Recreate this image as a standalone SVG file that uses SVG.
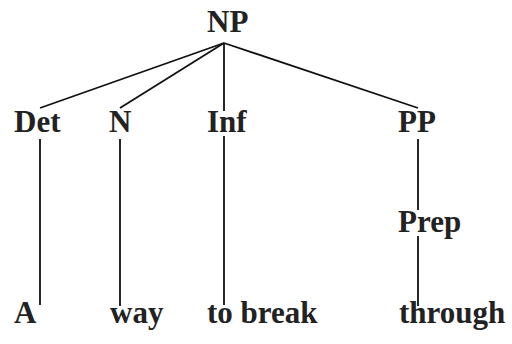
<svg xmlns="http://www.w3.org/2000/svg" width="512" height="344" viewBox="0 0 512 344">
<style>
text{font-family:"Liberation Serif","Times New Roman",serif;font-weight:bold;font-size:31px;fill:#222}
.e{stroke:#111;stroke-width:1.8;fill:none}
</style>
<rect width="512" height="344" fill="#fff"/>
<g id="edges">
<line class="e" x1="224" y1="43" x2="40" y2="108"/>
<line class="e" x1="224" y1="43" x2="120" y2="108"/>
<line class="e" x1="224" y1="43" x2="224" y2="305"/>
<line class="e" x1="224" y1="43" x2="418" y2="108"/>
<line class="e" x1="40" y1="139" x2="40" y2="305"/>
<line class="e" x1="120" y1="139" x2="120" y2="306"/>
<line class="e" x1="418" y1="139" x2="418" y2="210"/>
<line class="e" x1="418" y1="236" x2="418" y2="306"/>
</g>
<g id="np"><text x="207" y="32">NP</text></g>
<g id="det"><text x="14" y="132">Det</text></g>
<g id="n"><text x="109" y="132">N</text></g>
<g id="inf"><rect x="206" y="111" width="46" height="25" fill="#fff"/><text x="207" y="132">Inf</text></g>
<g id="pp"><text x="398" y="132">PP</text></g>
<g id="prep"><text x="398" y="232">Prep</text></g>
<g id="a"><text x="14" y="323">A</text></g>
<g id="way"><text x="110" y="323">way</text></g>
<g id="tobreak"><text x="207" y="323">to break</text></g>
<g id="through"><text x="399" y="323">through</text></g>
</svg>
